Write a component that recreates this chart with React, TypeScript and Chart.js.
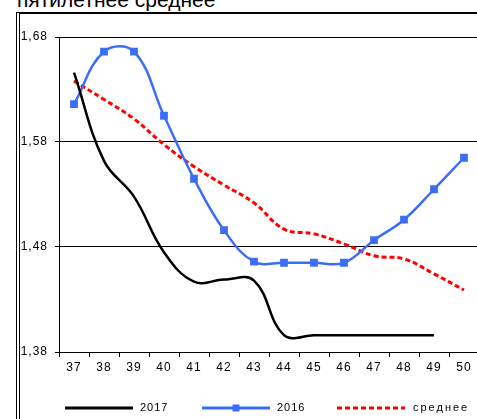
import React, { useEffect, useRef } from "react";
import { Chart, registerables } from "chart.js";

Chart.register(...registerables);

const weeks = ["37", "38", "39", "40", "41", "42", "43", "44", "45", "46", "47", "48", "49", "50"];
const series2017 = [1.646, 1.562, 1.528, 1.475, 1.447, 1.449, 1.448, 1.396, 1.396, 1.396, 1.396, 1.396, 1.396, null];
const series2016 = [1.616, 1.666, 1.666, 1.605, 1.545, 1.496, 1.466, 1.465, 1.465, 1.465, 1.4865, 1.506, 1.535, 1.565];
const seriesAvg = [1.638, 1.6205, 1.602, 1.5775, 1.5566, 1.539, 1.522, 1.497, 1.4925, 1.483, 1.4716, 1.4686, 1.4544, 1.439];
const yTickValues = [1.38, 1.48, 1.58, 1.68];
const yTickLabels = ["1,38", "1,48", "1,58", "1,68"];
const legendLabels = ["2017", "2016", "среднее"];
const titleText = "пятилетнее среднее";

const FONT = "'Liberation Sans', Arial, sans-serif";

const legendPlugin = {
  id: "customLegend",
  beforeDraw(chart: any) {
    chart.ctx.letterSpacing = "1px";
  },
  afterDraw(chart: any) {
    const ctx = chart.ctx;
    const y = 408;
    const items = [
      { x1: 65, x2: 133, tx: 140 },
      { x1: 202, x2: 270, tx: 277 },
      { x1: 337, x2: 405, tx: 413 },
    ];
    ctx.save();
    chart.data.datasets.forEach((ds: any, i: number) => {
      const it = items[i];
      ctx.beginPath();
      ctx.strokeStyle = ds.borderColor;
      ctx.lineWidth = 3;
      ctx.setLineDash(ds.borderDash || []);
      ctx.moveTo(it.x1, y);
      ctx.lineTo(it.x2, y);
      ctx.stroke();
      ctx.setLineDash([]);
      if (ds.pointRadius > 0) {
        ctx.fillStyle = ds.borderColor;
        const s = 7;
        ctx.fillRect((it.x1 + it.x2) / 2 - s / 2, y - s / 2, s, s);
      }
      ctx.fillStyle = "#000";
      ctx.font = `11px ${FONT}`;
      ctx.letterSpacing = i === 2 ? "2px" : "1px";
      ctx.textBaseline = "middle";
      ctx.textAlign = "left";
      ctx.fillText(legendLabels[i], it.tx, y);
    });
    ctx.restore();
  },
};

export default function App() {
  const ref = useRef<HTMLCanvasElement>(null);
  useEffect(() => {
    if (!ref.current) return;
    const chart = new Chart(ref.current, {
      type: "line",
      data: {
        labels: weeks,
        datasets: [
          {
            label: legendLabels[0],
            data: series2017,
            borderColor: "#000000",
            borderWidth: 2.5,
            pointRadius: 0,
            tension: 0.4,
            fill: false,
          },
          {
            label: legendLabels[1],
            data: series2016,
            borderColor: "#3b6ef5",
            backgroundColor: "#3b6ef5",
            borderWidth: 2.5,
            pointRadius: 5.5,
            pointStyle: "rect",
            pointBorderWidth: 0,
            tension: 0.4,
            fill: false,
          },
          {
            label: legendLabels[2],
            data: seriesAvg,
            borderColor: "#ff0000",
            borderWidth: 3,
            borderDash: [5, 3],
            pointRadius: 0,
            tension: 0.4,
            fill: false,
          },
        ] as any,
      },
      options: {
        responsive: false,
        animation: false,
        layout: { padding: { left: 16, top: 37, right: 11, bottom: 37 } },
        plugins: { legend: { display: false }, tooltip: { enabled: false } },
        scales: {
          x: {
            type: "category",
            offset: true,
            grid: { drawOnChartArea: false, drawTicks: true, tickLength: 5, color: "#000", offset: true },
            border: { color: "#000", width: 1 },
            ticks: { color: "#000", font: { family: FONT, size: 12 }, padding: 3, maxRotation: 0, autoSkip: false },
            afterFit: (s: any) => {
              s.height = 30;
            },
          },
          y: {
            type: "linear",
            min: 1.38,
            max: 1.68,
            afterBuildTicks: (s: any) => {
              s.ticks = yTickValues.map((v) => ({ value: v }));
            },
            grid: { color: "#000", tickLength: 4, drawTicks: true },
            border: { color: "#000", width: 1 },
            ticks: {
              color: "#000",
              font: { family: FONT, size: 12 },
              padding: 7,
              callback: (_v: any, i: number) => yTickLabels[i],
            },
            afterFit: (s: any) => {
              s.width = 43;
            },
          },
        },
      } as any,
      plugins: [legendPlugin],
    });
    return () => chart.destroy();
  }, []);

  return (
    <div style={{ position: "fixed", left: 0, top: 0, width: 477, height: 419, overflow: "hidden", background: "#fff" }}>
      <div
        style={{
          position: "absolute",
          left: 17,
          top: -11,
          fontFamily: FONT,
          fontSize: 21,
          lineHeight: "21px",
          whiteSpace: "nowrap",
          color: "#000",
        }}
      >
        {titleText}
      </div>
      <div
        style={{
          position: "absolute",
          left: 16,
          top: 12,
          width: 500,
          height: 450,
          background: "#fff",
          borderLeft: "4px double #000",
          borderTop: "2px solid #000",
        }}
      />
      <canvas ref={ref} width={490} height={419} style={{ position: "absolute", left: 0, top: 0 }} />
    </div>
  );
}
